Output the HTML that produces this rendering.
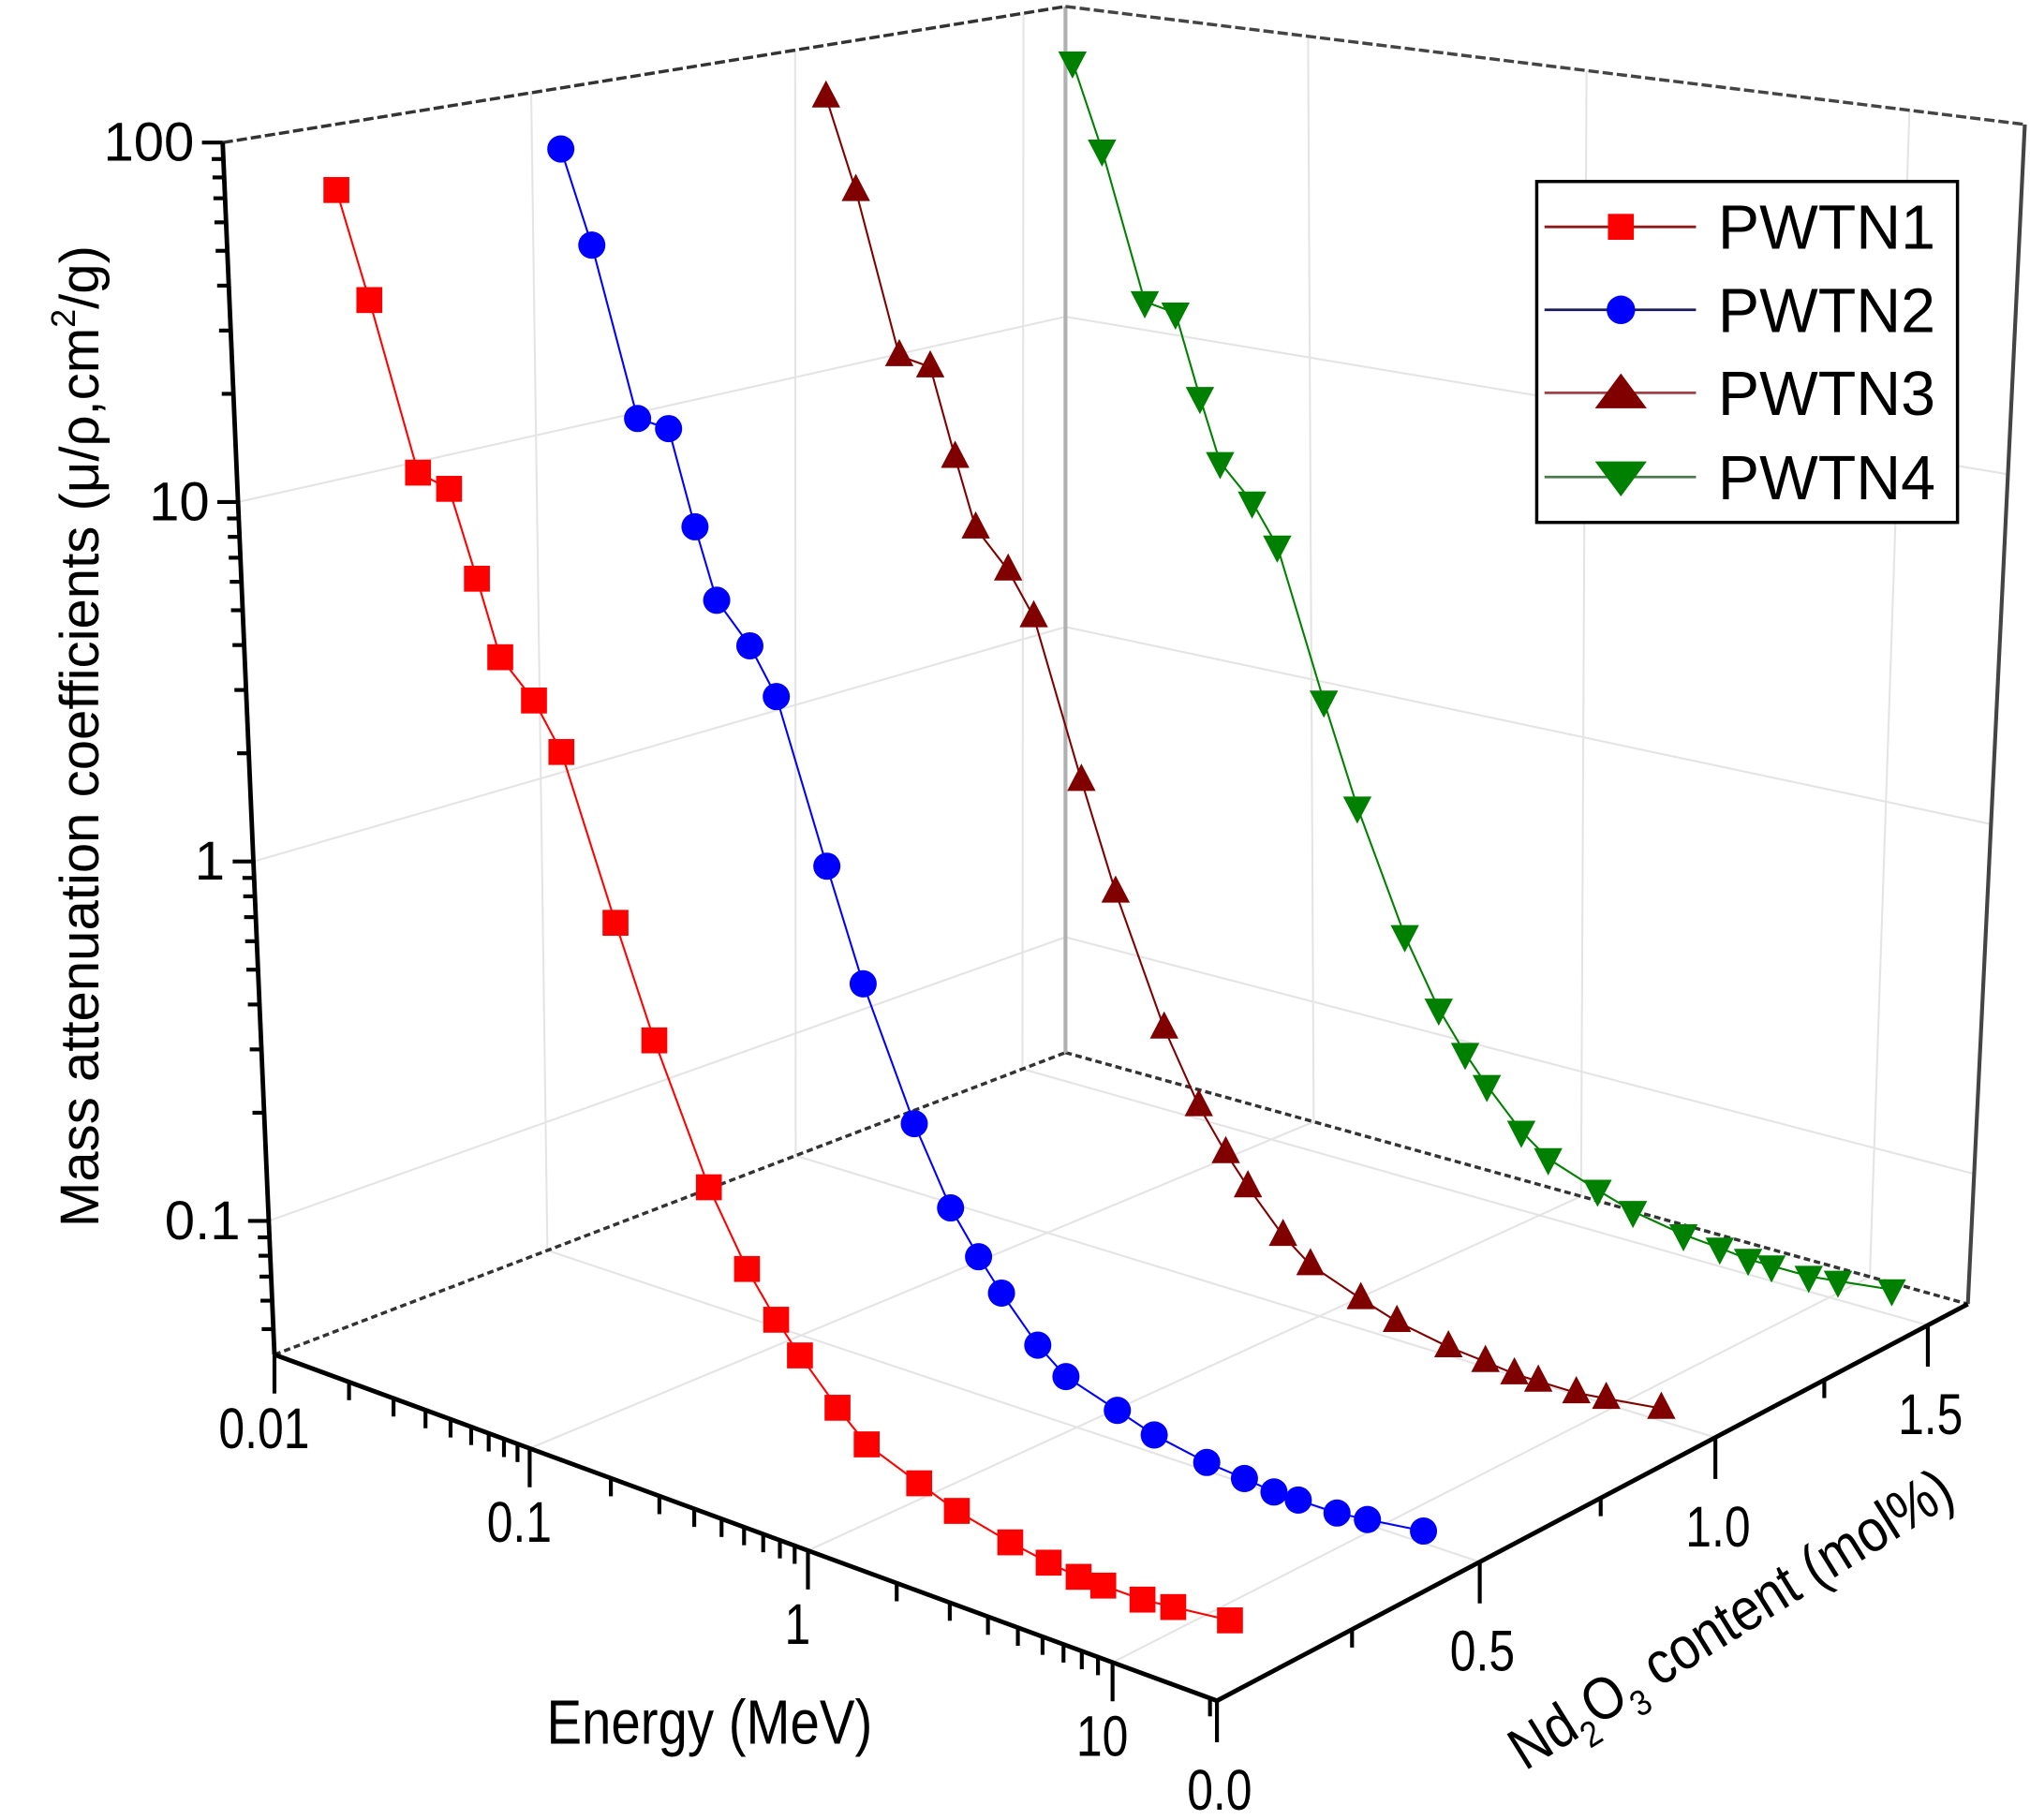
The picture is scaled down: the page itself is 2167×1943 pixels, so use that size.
<!DOCTYPE html>
<html><head><meta charset="utf-8"><style>
html,body{margin:0;padding:0;background:#fff;}
svg{display:block;}
text{font-family:"Liberation Sans",sans-serif;fill:#000;}
</style></head><body>
<svg id="chart" xmlns="http://www.w3.org/2000/svg" width="2167" height="1943" viewBox="0 0 1568 1404" preserveAspectRatio="none">
<rect x="0" y="0" width="1568" height="1404" fill="#fff"/>
<g id="grid"></g>
<g id="frame"></g>
<g id="series"></g>
<g id="axes"></g>
<text transform="translate(76,568) rotate(-90)" text-anchor="middle" font-size="42">Mass attenuation coefficients (μ/ρ,cm<tspan font-size="26" dy="-18">2</tspan><tspan dy="18">/g)</tspan></text>
<text transform="translate(548,1345) scale(0.85,1)" text-anchor="middle" font-size="48">Energy (MeV)</text>
<text transform="translate(1345,1262) rotate(-32) scale(0.88,1)" text-anchor="middle" font-size="46">Nd<tspan font-size="28" dy="12">2</tspan><tspan dy="-12">O</tspan><tspan font-size="28" dy="12">3</tspan><tspan dy="-12"> content (mol%)</tspan></text>
<g>
<rect x="1187" y="140" width="325" height="263" fill="#fff" stroke="#000" stroke-width="2.5"/>
<g><line x1="1193" y1="175" x2="1310" y2="175" stroke="#8b1a1a" stroke-width="2"/><rect x="1242" y="165" width="20" height="20" fill="#ff0000"/><text x="1327" y="192" font-size="48">PWTN1</text></g>
<g><line x1="1193" y1="239" x2="1310" y2="239" stroke="#1a1a5a" stroke-width="2"/><circle cx="1252" cy="239" r="11" fill="#0000ff"/><text x="1327" y="256" font-size="48">PWTN2</text></g>
<g><line x1="1193" y1="303" x2="1310" y2="303" stroke="#a0404a" stroke-width="2"/><polygon points="1252,288 1272,315 1232,315" fill="#800000"/><text x="1327" y="320" font-size="48">PWTN3</text></g>
<g><line x1="1193" y1="368" x2="1310" y2="368" stroke="#4a7a4a" stroke-width="2"/><polygon points="1232,356 1272,356 1252,383" fill="#008000"/><text x="1327" y="385" font-size="48">PWTN4</text></g>
</g>
</svg>
<script>
const energies = [0.015,0.02,0.03,0.04,0.05,0.06,0.08,0.1,0.15,0.2,0.3,0.4,0.5,0.6,0.8,1,1.5,2,3,4,5,6,8,10,15];
const seriesNames = ["PWTN1","PWTN2","PWTN3","PWTN4"];
const ndContent = [0.11,0.48,0.98,1.52];
const pwtn1 = [72,37,13.1,12.4,7.3,4.6,3.7,2.8,1.05,0.54,0.24,0.156,0.121,0.102,0.080,0.068,0.060,0.055,0.051,0.049,0.048,0.048,0.048,0.049,0.051];
const pwtn2 = [73,40,13.5,13.2,7.2,4.6,3.6,2.7,0.98,0.49,0.22,0.138,0.107,0.089,0.069,0.060,0.054,0.050,0.047,0.046,0.045,0.045,0.045,0.046,0.048];
const pwtn3 = [76,41,13.8,13.3,7.4,4.7,3.7,2.8,1.0,0.50,0.22,0.14,0.108,0.09,0.07,0.061,0.054,0.050,0.047,0.046,0.045,0.045,0.045,0.046,0.048];
const pwtn4 = [72,39,13.6,13.0,7.3,4.7,3.7,2.8,1.0,0.50,0.22,0.14,0.108,0.09,0.07,0.061,0.054,0.050,0.047,0.046,0.045,0.045,0.045,0.046,0.048];
const yTickValues = [0.1,1,10,100];
const yTickLabels = ["0.1","1","10","100"];
const xTickValues = [0.01,0.1,1,10];
const xTickLabels = ["0.01","0.1","1","10"];
const zTickValues = [0,0.5,1.0,1.5];
const zTickLabels = ["0.0","0.5","1.0","1.5"];

const NS="http://www.w3.org/2000/svg";
const lEmin=-2, lEmax=Math.log10(21), Nmax=1.6, zmin=-1.372, zmax=2;
function homog(q){
  const [x0,y0]=q[0],[x1,y1]=q[1],[x2,y2]=q[2],[x3,y3]=q[3];
  const dx1=x1-x2,dx2=x3-x2,dx3=x0-x1+x2-x3,dy1=y1-y2,dy2=y3-y2,dy3=y0-y1+y2-y3;
  const den=dx1*dy2-dx2*dy1;
  const g=(dx3*dy2-dx2*dy3)/den,h=(dx1*dy3-dx3*dy1)/den;
  const a=x1-x0+g*x1,b=x3-x0+h*x3,c=x0,d=y1-y0+g*y1,e=y3-y0+h*y3,f=y0;
  return (u,v)=>{const w=g*u+h*v+1;return [(a*u+b*v+c)/w,(d*u+e*v+f)/w];};
}
const floorH=homog([[212,1045],[940,1312],[1520,1006],[823,812]]);
const topH=homog([[172,110],[945,274],[1564,96],[823,5]]);
function uE(E){return (Math.log10(E)-lEmin)/(lEmax-lEmin);}
function vN(N){return N/Nmax;}
function wZ(val){return (Math.log10(val)-zmin)/(zmax-zmin);}
function projUVW(u,v,w){const f=floorH(u,v),t=topH(u,v);return [f[0]+(t[0]-f[0])*w,f[1]+(t[1]-f[1])*w];}
function proj(E,N,val){return projUVW(uE(E),vN(N),wZ(val));}
function mk(tag,attrs,parent){const el=document.createElementNS(NS,tag);for(const k in attrs)el.setAttribute(k,attrs[k]);parent.appendChild(el);return el;}
function line(p,q,st,parent){return mk('line',{x1:p[0],y1:p[1],x2:q[0],y2:q[1],stroke:st.c,'stroke-width':st.w,'stroke-dasharray':st.d||'none'},parent);}

const grid=document.getElementById('grid'),frame=document.getElementById('frame'),axes=document.getElementById('axes'),ser=document.getElementById('series');
const gs={c:'#e4e4e4',w:1.5};
[-1,0,1].forEach(z=>{const w=(z-zmin)/(zmax-zmin);const el=line(projUVW(0,0,w),projUVW(0,1,w),gs,grid);


const el2=line(projUVW(0,1,w),projUVW(1,1,w),gs,grid);

});
zTickValues.slice(1).forEach(N=>{const v=vN(N);const el=line(projUVW(0,v,0),projUVW(0,v,1),gs,grid);


const el2=line(projUVW(0,v,0),projUVW(1,v,0),gs,grid);

});
xTickValues.slice(1).forEach(E=>{const u=uE(E);const el=line(projUVW(u,1,0),projUVW(u,1,1),gs,grid);


const el2=line(projUVW(u,0,0),projUVW(u,1,0),gs,grid);

});
[[[0,0,0],[0,1,0],{c:'#333',w:2.5,d:'5 3'}],[[0,1,0],[1,1,0],{c:'#333',w:2.5,d:'5 3'}],[[0,1,0],[0,1,1],{c:'#b0b0b0',w:3}],
 [[0,0,1],[0,1,1],{c:'#333',w:2.5,d:'8 3'}],[[0,1,1],[1,1,1],{c:'#444',w:2.5,d:'8 3'}],[[1,1,0],[1,1,1],{c:'#444',w:3}]].forEach(s=>{
 const el=line(projUVW(...s[0]),projUVW(...s[1]),s[2],frame);
 
 });
const ax={c:'#000',w:3.5};
let a1=line(projUVW(0,0,0),projUVW(0,0,1),ax,axes);


let a2=line(projUVW(0,0,0),projUVW(1,0,0),ax,axes);


let a3=line(projUVW(1,0,0),projUVW(1,1,0),ax,axes);


for(let d=-2;d<=2;d++){for(let m=1;m<=9;m++){const val=m*Math.pow(10,d);const z=Math.log10(val);if(z<zmin||z>zmax+1e-9)continue;
 const p=projUVW(0,0,wZ(val));const L=(m===1)?16:9;
 const t=line([p[0]-L,p[1]],p,{c:'#000',w:3},axes);
 
 }}
yTickValues.forEach((val,i)=>{const p=projUVW(0,0,wZ(val));
 const t=mk('text',{x:p[0]-22,y:p[1]+14,'text-anchor':'end','font-size':'42'},axes);t.textContent=yTickLabels[i];
 
 });
for(let d=-2;d<=1;d++){for(let m=1;m<=9;m++){const E=m*Math.pow(10,d);const l=Math.log10(E);if(l<lEmin-1e-9||l>lEmax)continue;
 const p=projUVW(uE(E),0,0);const L=(m===1)?30:14;
 const t=line(p,[p[0],p[1]+L],{c:'#000',w:3},axes);
 
 }}
xTickValues.forEach((E,i)=>{const p=projUVW(uE(E),0,0);
 const t=mk('text',{transform:`translate(${p[0]-8},${p[1]+72}) scale(0.82,1)`,'text-anchor':'middle','font-size':'44'},axes);t.textContent=xTickLabels[i];
 
 });
for(let k=0;k<=6;k++){const N=k*0.25;if(N>Nmax)continue;const p=projUVW(1,vN(N),0);const L=(k%2===0)?32:14;
 const t=line(p,[p[0],p[1]+L],{c:'#000',w:3},axes);
 
 }
zTickValues.forEach((N,i)=>{const p=projUVW(1,vN(N),0);
 const t=mk('text',{transform:`translate(${p[0]+2},${p[1]+84}) scale(0.82,1)`,'text-anchor':'middle','font-size':'44'},axes);t.textContent=zTickLabels[i];
 
 });
const allVals=[pwtn1,pwtn2,pwtn3,pwtn4];
const lineColors=['#ff0000','#0000ff','#800000','#008000'];
const fillColors=['#ff0000','#0000ff','#800000','#008000'];
const shapes=['square','circle','up','down'];
allVals.forEach((vals,s)=>{
 const g=mk('g',{},ser);
 
 
 const pts=vals.map((v,i)=>proj(energies[i],ndContent[s],v));
 const pl=mk('polyline',{points:pts.map(p=>p.join(',')).join(' '),fill:'none',stroke:lineColors[s],'stroke-width':1.5},g);
 
 
 pts.forEach(p=>{let m;const [x,y]=p;
  if(shapes[s]==='square')m=mk('rect',{x:x-10,y:y-10,width:20,height:20,fill:fillColors[s]},g);
  else if(shapes[s]==='circle')m=mk('circle',{cx:x,cy:y,r:10.5,fill:fillColors[s]},g);
  else if(shapes[s]==='up')m=mk('polygon',{points:`${x},${y-13} ${x+11},${y+8} ${x-11},${y+8}`,fill:fillColors[s]},g);
  else m=mk('polygon',{points:`${x-11},${y-8} ${x+11},${y-8} ${x},${y+13}`,fill:fillColors[s]},g);
  
  });
});
</script>
</body></html>
